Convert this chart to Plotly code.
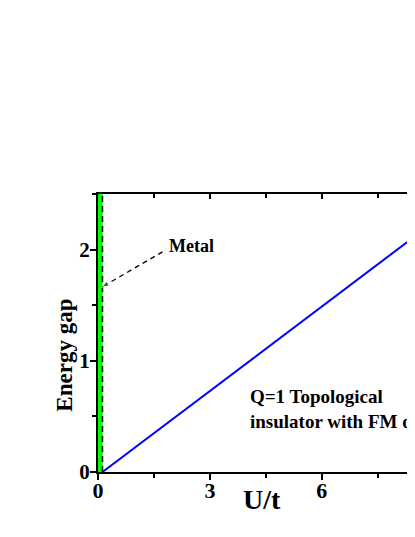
import plotly.graph_objects as go

# --- data ---
tq_u = [0.12, 10.0]          # blue line: Q=1 topological insulator gap
tq_gap = [0.0, 2.5]
metal_u = [0.06, 0.06]       # thin metallic strip near U=0
metal_gap = [0.0, 2.5]
edge_u = [0.12, 0.12]        # dashed boundary
edge_gap = [0.0, 2.5]
arrow_u = [1.73, 0.09]       # dashed arrow "Metal" -> strip
arrow_gap = [1.98, 1.66]
x_ticks = [0, 3, 6, 9]
y_ticks = [0, 1, 2]

FONT = "Liberation Serif"
XR = [0, 8.5]
YR = [0, 2.5]

fig = go.Figure()
fig.add_trace(go.Scatter(x=metal_u, y=metal_gap, mode='lines',
                         line=dict(color='#00ff00', width=5), hoverinfo='skip'))
fig.add_trace(go.Scatter(x=edge_u, y=edge_gap, mode='lines',
                         line=dict(color='black', width=1.5, dash='6px,4px'), hoverinfo='skip'))
fig.add_trace(go.Scatter(x=tq_u, y=tq_gap, mode='lines',
                         line=dict(color='#0000ff', width=2), hoverinfo='skip'))
fig.add_trace(go.Scatter(x=arrow_u, y=arrow_gap, mode='lines+markers',
                         line=dict(color='black', width=1.3, dash='5px,4px'),
                         marker=dict(symbol='arrow', size=[0, 8], angleref='previous', color='black'),
                         hoverinfo='skip'))
# invisible trace to carry the top axis
fig.add_trace(go.Scatter(x=XR, y=YR, xaxis='x2', mode='lines',
                         line=dict(width=0), hoverinfo='skip'))

fig.add_annotation(text="<b>Metal</b>", x=1.86, y=2.03, xref='x', yref='y',
                   xanchor='left', yanchor='middle', showarrow=False,
                   font=dict(family=FONT, size=18, color='black'))
fig.add_annotation(text="<b>Q=1 Topological<br>insulator with FM order</b>",
                   x=4.01, y=0.57, xref='x', yref='y', showarrow=False,
                   align='left', xanchor='left', yanchor='middle',
                   font=dict(family=FONT, size=19, color='black'))
# axis titles
fig.add_annotation(text="<b>U/t</b>", x=4.41, y=-0.1, xref='x', yref='paper',
                   showarrow=False, xanchor='center', yanchor='middle',
                   font=dict(family=FONT, size=28, color='black'))
fig.add_annotation(text="<b>Energy gap</b>", x=-0.106, y=0.42, xref='paper', yref='paper',
                   showarrow=False, textangle=-90, xanchor='center', yanchor='middle',
                   font=dict(family=FONT, size=23, color='black'))

# page body adds an 8px margin, so the figure is smaller than the window
fig.update_layout(
    width=407, height=521,
    margin=dict(l=90, r=0, t=186, b=57),
    paper_bgcolor='white', plot_bgcolor='white',
    showlegend=False,
    font=dict(family=FONT, color='black'),
    xaxis=dict(range=XR, tickvals=x_ticks, ticktext=[f"<b>{v}</b>" for v in x_ticks],
               ticks='outside', ticklen=6, tickwidth=1.5, tickcolor='black',
               minor=dict(dtick=1.5, ticks='outside', ticklen=4, tickwidth=1.5, tickcolor='black'),
               showline=True, linecolor='black', linewidth=2, showgrid=False, zeroline=False,
               ticklabelstandoff=-8,
               tickfont=dict(family=FONT, size=22, color='black')),
    xaxis2=dict(range=XR, overlaying='x', side='top', anchor='y', tickvals=x_ticks,
                showticklabels=False, ticks='inside', ticklen=5, tickwidth=1.5, tickcolor='black',
                minor=dict(dtick=1.5, ticks='inside', ticklen=4, tickwidth=1.5, tickcolor='black'),
                showline=True, linecolor='black', linewidth=2, showgrid=False, zeroline=False),
    yaxis=dict(range=YR, tickvals=y_ticks, ticktext=[f"<b>{v}</b>" for v in y_ticks],
               ticks='outside', ticklen=6, tickwidth=1.5, tickcolor='black',
               minor=dict(dtick=0.5, ticks='outside', ticklen=4, tickwidth=1.5, tickcolor='black'),
               showline=True, linecolor='black', linewidth=2, showgrid=False, zeroline=False,
               ticklabelstandoff=-4,
               tickfont=dict(family=FONT, size=21, color='black')),
)

fig.write_html("out.html")
